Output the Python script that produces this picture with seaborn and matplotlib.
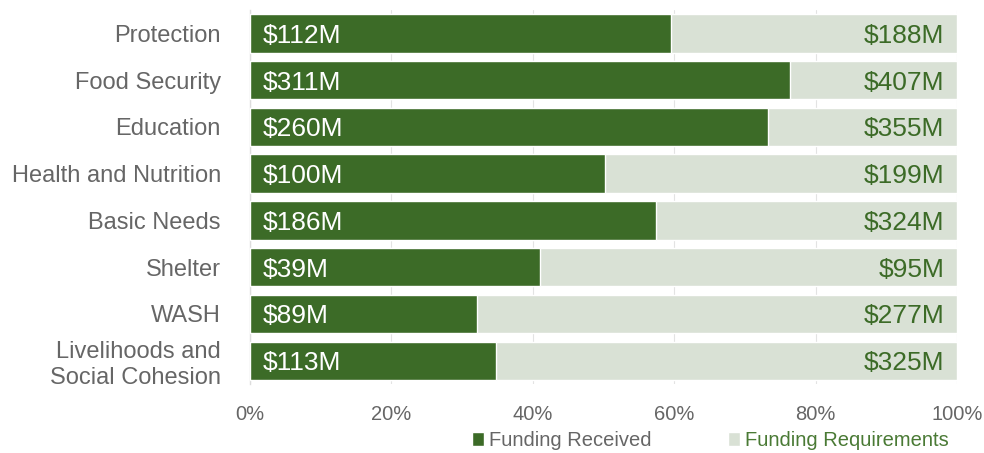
import numpy as np
import pandas as pd
import matplotlib
matplotlib.use("Agg")
import matplotlib.pyplot as plt
import seaborn as sns
from matplotlib.patches import Patch

# data
sectors = ["Protection", "Food Security", "Education", "Health and Nutrition",
           "Basic Needs", "Shelter", "WASH", "Livelihoods and\nSocial Cohesion"]
received = [112, 311, 260, 100, 186, 39, 89, 113]      # $M
required = [188, 407, 355, 199, 324, 95, 277, 325]     # $M

dark_green = "#3c6b27"
light_green = "#d9e1d5"

df = pd.DataFrame({"sector": sectors, "received": received, "required": required})
df["pct_received"] = df["received"] / df["required"] * 100
df["pct_required"] = 100.0

sns.set_theme(style="white")
plt.rcParams["font.family"] = ["Liberation Sans", "DejaVu Sans"]

fig = plt.figure(figsize=(9.84, 4.53), dpi=100)
ax = fig.add_axes([0.254, 0.152, 0.7186, 0.826])

# background bars = full requirement, foreground = share received
sns.barplot(data=df, y="sector", x="pct_required", color=light_green,
            width=0.82, ax=ax, orient="h", saturation=1)
n_bg = len(ax.patches)
sns.barplot(data=df, y="sector", x="pct_received", color=dark_green,
            width=0.82, ax=ax, orient="h", saturation=1)
for k, p in enumerate(ax.patches):
    p.set_zorder(1 if k < n_bg else 3)

for i, row in df.iterrows():
    ax.text(1.8, i, f"${row['received']}M", color="white", fontsize=19,
            va="center_baseline", ha="left", zorder=4)
    ax.text(98.2, i, f"${row['required']}M", color=dark_green, fontsize=19,
            va="center_baseline", ha="right", zorder=4)

ax.set_xlim(0, 100)
ax.set_ylim(7.5, -0.5)
ax.set_xticks([0, 20, 40, 60, 80, 100])
ax.set_xticklabels([f"{t}%" for t in [0, 20, 40, 60, 80, 100]])
ax.tick_params(axis="x", labelsize=14.5, labelcolor="#666666", length=0, pad=15)
ax.tick_params(axis="y", labelsize=17, labelcolor="#666666", length=0, pad=21)
ax.set_xlabel("")
ax.set_ylabel("")

# faint grid shows over the light bars, hidden behind the dark ones
ax.grid(axis="x", color="#c8c8c8", linewidth=0.8, alpha=0.5)
for line in ax.get_xgridlines():
    line.set_zorder(2)
for s in ["top", "right", "bottom"]:
    ax.spines[s].set_visible(False)
ax.spines["left"].set_color("#dddddd")
ax.spines["left"].set_linewidth(1)

handles = [Patch(facecolor=dark_green, label="Funding Received"),
           Patch(facecolor=light_green, label="Funding Requirements")]
leg = fig.legend(handles=handles, loc="center", bbox_to_anchor=(0.722, 0.027),
                 ncol=2, frameon=False, fontsize=14.5, handlelength=0.6,
                 handleheight=0.7, handletextpad=0.25, columnspacing=3.8)
leg.get_texts()[0].set_color("#666666")
leg.get_texts()[1].set_color("#4a7a35")

fig.savefig("out.png", dpi=100)
